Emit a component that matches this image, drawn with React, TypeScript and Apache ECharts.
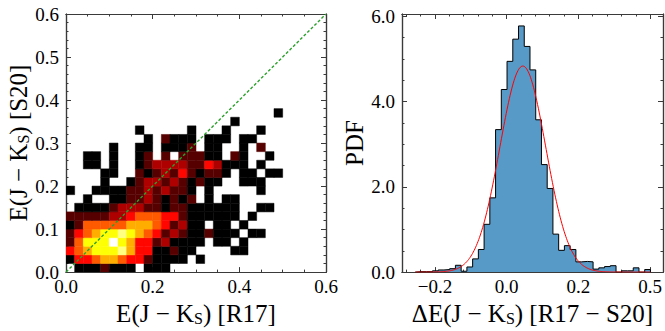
import { useEffect, useRef } from 'react';
import * as echarts from 'echarts';

// ---- left panel: 2D histogram of E(J-Ks), R17 vs S20 ----
const BIN = 0.02;
// log-scaled counts per 0.02 x 0.02 cell (0 = empty, 1 = single object ... 9 = peak),
// one string per row, bottom row (y = 0.00) first, column i covers x = i*0.02
const heatRows = [
  '011121110111000000000000000000',
  '144566544211110100000000000000',
  '456777864411211000011000000000',
  '257779764423111101101000000000',
  '245677876542321121110110000000',
  '125555566654231101101000000000',
  '222223345554421111110100000000',
  '011112333221221111110011000000',
  '001001122321212010110000000000',
  '100111122323221010000010000000',
  '000010012332321211001110000000',
  '000011002123242122101101100000',
  '001101001233332243111010000000',
  '001101001202022211021001000000',
  '000001001101112011001020000000',
  '000000000102111011101100000000',
  '000000001000001000100010000000',
  '000000000000000000010000000000',
  '000000000000000000000000100000',
];
const diagonal = [
  [0, 0],
  [0.6, 0.6],
];

// ---- right panel: histogram of the difference R17 - S20 ----
const histStart = -0.255;
const histBin = 0.016;
const histPdf = [
  0.01, 0.01, 0.01, 0.03, 0.05, 0.06, 0.08, 0.16, 0.02, 0.12,
  0.31, 0.53, 1.12, 1.74, 3.34, 4.28, 4.94, 5.46, 5.77, 5.29,
  4.74, 3.57, 2.52, 1.96, 0.89, 0.51, 0.62, 0.53, 0.24, 0.25,
  0.24, 0.07, 0.1, 0.13, 0.15, 0.0, 0.03, 0.03, 0.1, 0.0, 0.06,
];
// Gaussian fit to the difference distribution
const gaussAmp = 4.83;
const gaussMu = 0.045;
const gaussSigma = 0.064;

// ---- ticks ----
const leftXTicks = [0, 0.2, 0.4, 0.6];
const leftXLabels = ['0.0', '0.2', '0.4', '0.6'];
const leftYTicks = [0, 0.1, 0.2, 0.3, 0.4, 0.5, 0.6];
const leftYLabels = ['0.0', '0.1', '0.2', '0.3', '0.4', '0.5', '0.6'];
const rightXTicks = [-0.2, 0, 0.2, 0.4];
const rightXLabels = ['\u22120.2', '0.0', '0.2', '0.5'];
const rightYTicks = [0, 2, 4, 6];
const rightYLabels = ['0.0', '2.0', '4.0', '6.0'];

const FONT = 'Liberation Serif';
const FRAME = '#3a3a3a';

function steps(from: number, to: number, step: number): number[] {
  const out: number[] = [];
  const n = Math.round((to - from) / step);
  for (let k = 0; k <= n; k++) out.push(+(from + k * step).toFixed(6));
  return out;
}

// matplotlib "hot" colour map
function hot(t: number): string {
  const c = (v: number) => Math.round(255 * Math.min(1, Math.max(0, v)));
  const r = c(t / 0.365);
  const g = c((t - 0.365) / 0.381);
  const b = c((t - 0.746) / 0.254);
  return `rgb(${r},${g},${b})`;
}

function frameAxes(
  kind: 'x' | 'y',
  gridIndex: number,
  min: number,
  max: number,
  majors: number[],
  labels: string[],
  minors: number[],
  name: string,
  nameGap: number
) {
  const near = kind === 'x' ? 'bottom' : 'left';
  const far = kind === 'x' ? 'top' : 'right';
  const line = { show: true, onZero: false, lineStyle: { color: FRAME, width: 1.2 } };
  const base = {
    type: 'value',
    gridIndex,
    min,
    max,
    splitLine: { show: false },
    axisLine: line,
  };
  const fmt = (v: number) => {
    const i = majors.findIndex((m) => Math.abs(m - v) < 1e-9);
    return i >= 0 ? labels[i] : '';
  };
  const majorTick = { show: true, inside: true, length: 5, customValues: majors, lineStyle: { color: FRAME, width: 1 } };
  const minorTick = { show: true, inside: true, length: 2.5, customValues: minors, lineStyle: { color: FRAME, width: 1 } };
  return [
    {
      ...base,
      position: near,
      axisTick: majorTick,
      axisLabel: {
        show: true,
        customValues: majors,
        formatter: fmt,
        fontFamily: FONT,
        fontSize: 19,
        color: '#000',
        margin: kind === 'x' ? 5 : 7,
      },
      name,
      nameLocation: 'middle',
      nameGap,
      nameRotate: kind === 'y' ? 90 : 0,
      nameTextStyle: {
        fontFamily: FONT,
        fontSize: 25,
        color: '#000',
        rich: { s: { fontFamily: FONT, fontSize: 16, color: '#000', verticalAlign: 'bottom', lineHeight: 8 } },
      },
    },
    { ...base, position: far, axisTick: majorTick, axisLabel: { show: false } },
    { ...base, position: near, axisTick: minorTick, axisLabel: { show: false } },
    { ...base, position: far, axisTick: minorTick, axisLabel: { show: false } },
  ];
}

export default function App() {
  const ref = useRef<HTMLDivElement>(null);

  useEffect(() => {
    if (!ref.current) return;
    const chart = echarts.init(ref.current, null, { renderer: 'svg' });

    const cells: number[][] = [];
    heatRows.forEach((row, j) => {
      for (let i = 0; i < row.length; i++) {
        const lvl = Number(row[i]);
        if (lvl > 0) cells.push([i * BIN, j * BIN, lvl]);
      }
    });

    // step outline of the histogram, built from bin edges
    const outline: number[][] = [[histStart, 0]];
    histPdf.forEach((v, k) => {
      const e0 = histStart + k * histBin;
      outline.push([e0, v], [e0 + histBin, v]);
    });
    outline.push([histStart + histPdf.length * histBin, 0]);

    const histEnd = histStart + histPdf.length * histBin;
    const gauss: number[][] = [];
    const nG = 300;
    for (let k = 0; k <= nG; k++) {
      const x = histStart + ((histEnd - histStart) * k) / nG;
      gauss.push([x, gaussAmp * Math.exp(-((x - gaussMu) ** 2) / (2 * gaussSigma ** 2))]);
    }

    const leftX = frameAxes('x', 0, 0, 0.6, leftXTicks, leftXLabels, steps(0, 0.6, 0.05), 'E(J \u2212 K{s|S}) [R17]', 23);
    const leftY = frameAxes('y', 0, 0, 0.6, leftYTicks, leftYLabels, steps(0, 0.6, 0.02), 'E(J \u2212 K{s|S}) [S20]', 34);
    const rightX = frameAxes('x', 1, -0.292, 0.436, rightXTicks, rightXLabels, steps(-0.28, 0.44, 0.04), '\u0394E(J \u2212 K{s|S}) [R17 \u2212 S20]', 23);
    const rightY = frameAxes('y', 1, 0, 6.05, rightYTicks, rightYLabels, steps(0, 6, 0.5), 'PDF', 26);

    chart.setOption({
      animation: false,
      grid: [
        { left: 66, top: 14, width: 260, height: 263 },
        { left: 402, top: 14, width: 261, height: 263 },
      ],
      xAxis: [...leftX, ...rightX],
      yAxis: [...leftY, ...rightY],
      series: [
        {
          type: 'custom',
          xAxisIndex: 0,
          yAxisIndex: 0,
          data: cells,
          clip: true,
          renderItem: (_p: any, api: any) => {
            const x = api.value(0);
            const y = api.value(1);
            const lvl = api.value(2);
            const a = api.coord([x, y]);
            const b = api.coord([x + BIN, y + BIN]);
            const color = hot((lvl - 1) / 8);
            return {
              type: 'rect',
              shape: { x: a[0], y: b[1], width: b[0] - a[0], height: a[1] - b[1] },
              style: { fill: color, stroke: color, lineWidth: 0.5 },
            };
          },
        },
        {
          type: 'line',
          xAxisIndex: 0,
          yAxisIndex: 0,
          data: diagonal,
          symbol: 'none',
          lineStyle: { color: '#2ca02c', width: 1.4, type: [3, 2] },
        },
        {
          type: 'line',
          xAxisIndex: 4,
          yAxisIndex: 4,
          data: outline,
          symbol: 'none',
          lineStyle: { color: '#000', width: 1 },
          areaStyle: { color: '#5799c7', opacity: 1 },
        },
        {
          type: 'line',
          xAxisIndex: 4,
          yAxisIndex: 4,
          data: gauss,
          symbol: 'none',
          lineStyle: { color: '#ff0000', width: 1 },
        },
      ],
    });

    return () => chart.dispose();
  }, []);

  return <div ref={ref} style={{ position: 'absolute', left: 0, top: 0, width: 665, height: 331 }} />;
}
